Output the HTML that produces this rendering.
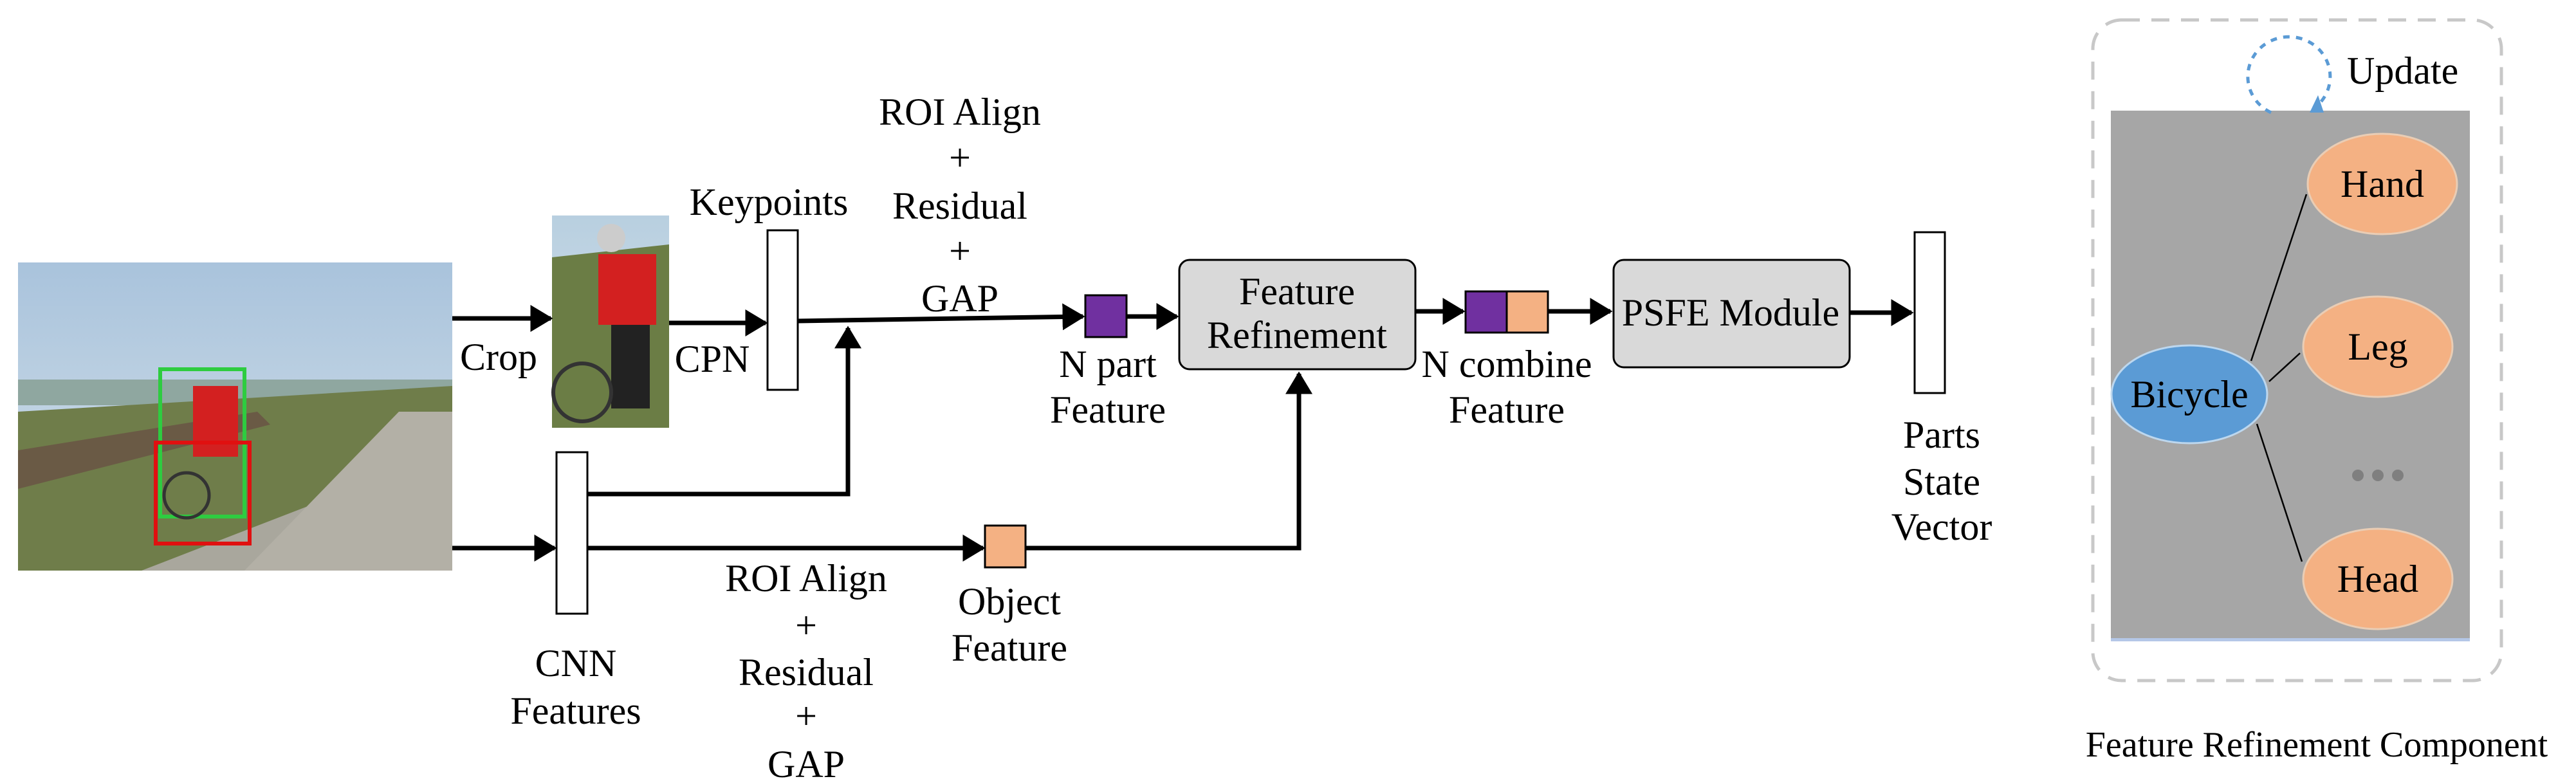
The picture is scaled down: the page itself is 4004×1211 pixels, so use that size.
<!DOCTYPE html>
<html><head><meta charset="utf-8"><style>
html,body{margin:0;padding:0;background:#fff;}
svg{display:block;}
svg text{font-family:"Liberation Serif","Times New Roman",serif !important;font-size:60px;fill:#000;}
</style></head><body>
<svg width="4004" height="1211" viewBox="0 0 4004 1211" xmlns="http://www.w3.org/2000/svg" font-family="Liberation Serif, serif">
<defs>
<marker id="ah" markerWidth="6" markerHeight="6" refX="4.5" refY="3" orient="auto" markerUnits="strokeWidth">
<path d="M0,0 L5,3 L0,6 z" fill="#000"/></marker>
<linearGradient id="sky" x1="0" y1="0" x2="0" y2="1">
<stop offset="0" stop-color="#a9c3dc"/><stop offset="1" stop-color="#d6e2ea"/></linearGradient>
<linearGradient id="sky2" x1="0" y1="0" x2="0" y2="1">
<stop offset="0" stop-color="#b8cfe0"/><stop offset="1" stop-color="#d8e4ea"/></linearGradient>
</defs>

<!-- main photo -->
<rect x="28" y="408" width="675" height="479" fill="url(#sky)"/>
<rect x="28" y="590" width="675" height="40" fill="#8fa7a0"/>
<polygon points="28,640 703,600 703,887 28,887" fill="#6f7d4a"/>
<polygon points="220,887 703,700 703,887" fill="#a9a79d"/>
<polygon points="380,887 620,640 703,640 703,887" fill="#b3b0a6"/>
<polygon points="28,700 400,640 420,660 28,760" fill="#6a5a45"/>
<rect x="249" y="574" width="131" height="229" fill="none" stroke="#2ecc40" stroke-width="6"/>
<rect x="300" y="600" width="70" height="110" fill="#d32020"/>
<rect x="242" y="688" width="146" height="157" fill="none" stroke="#e01010" stroke-width="6"/>
<circle cx="290" cy="770" r="35" fill="none" stroke="#333" stroke-width="5"/>

<!-- crop photo -->
<rect x="858" y="335" width="182" height="330" fill="url(#sky2)"/>
<polygon points="858,400 1040,380 1040,665 858,665" fill="#6b7d45"/>
<rect x="930" y="395" width="90" height="110" fill="#d32020"/>
<circle cx="950" cy="370" r="22" fill="#ccc"/>
<rect x="950" y="505" width="60" height="130" fill="#222"/>
<circle cx="905" cy="610" r="45" fill="none" stroke="#333" stroke-width="6"/>

<!-- arrows -->
<g stroke="#000" stroke-width="7" fill="none">
<line x1="703" y1="495" x2="856" y2="495" marker-end="url(#ah)"/>
<line x1="1040" y1="502" x2="1190" y2="502" marker-end="url(#ah)"/>
<line x1="1240" y1="499" x2="1683" y2="492" marker-end="url(#ah)"/>
<line x1="1751" y1="492" x2="1829" y2="492" marker-end="url(#ah)"/>
<polyline points="913,768 1318,768 1318,510" marker-end="url(#ah)"/>
<line x1="703" y1="852" x2="862" y2="852" marker-end="url(#ah)"/>
<line x1="913" y1="852" x2="1528" y2="852" marker-end="url(#ah)"/>
<polyline points="1594,852 2019,852 2019,581" marker-end="url(#ah)"/>
<line x1="2200" y1="484" x2="2274" y2="484" marker-end="url(#ah)"/>
<line x1="2406" y1="484" x2="2503" y2="484" marker-end="url(#ah)"/>
<line x1="2875" y1="486" x2="2971" y2="486" marker-end="url(#ah)"/>
</g>

<!-- boxes -->
<g stroke="#000" stroke-width="3">
<rect x="1193" y="358" width="47" height="248" fill="#fff"/>
<rect x="865" y="703" width="48" height="251" fill="#fff"/>
<rect x="2976" y="361" width="47" height="250" fill="#fff"/>
<rect x="1687" y="459" width="64" height="65" fill="#7030a0"/>
<rect x="1531" y="817" width="63" height="65" fill="#f4b183"/>
<rect x="2278" y="453" width="64" height="64" fill="#7030a0"/>
<rect x="2342" y="453" width="64" height="64" fill="#f4b183"/>
<rect x="1833" y="404" width="367" height="170" rx="16" fill="#d9d9d9"/>
<rect x="2508" y="404" width="367" height="167" rx="16" fill="#d9d9d9"/>
</g>

<!-- labels -->
<g text-anchor="middle" font-family="Liberation Serif, serif" font-size="60">
<text x="775" y="575">Crop</text>
<text x="1107" y="578">CPN</text>
<text x="1195" y="334">Keypoints</text>
<text x="1492" y="194">ROI Align</text>
<text x="1492" y="265">+</text>
<text x="1492" y="340">Residual</text>
<text x="1492" y="410">+</text>
<text x="1492" y="484">GAP</text>
<text x="1722" y="586">N part</text>
<text x="1722" y="657">Feature</text>
<text x="1253" y="919">ROI Align</text>
<text x="1253" y="992">+</text>
<text x="1253" y="1065">Residual</text>
<text x="1253" y="1133">+</text>
<text x="1253" y="1208">GAP</text>
<text x="1569" y="955">Object</text>
<text x="1569" y="1027">Feature</text>
<text x="895" y="1051">CNN</text>
<text x="895" y="1125">Features</text>
<text x="2016" y="473">Feature</text>
<text x="2016" y="541">Refinement</text>
<text x="2342" y="586">N combine</text>
<text x="2342" y="657">Feature</text>
<text x="2690" y="506">PSFE Module</text>
<text x="3018" y="696">Parts</text>
<text x="3018" y="769">State</text>
<text x="3018" y="839">Vector</text>
<text x="3601" y="1176" style="font-size:56px">Feature Refinement Component</text>
</g>

<!-- right component -->
<rect x="3253" y="31" width="635" height="1027" rx="45" fill="none" stroke="#c8c8c8" stroke-width="5" stroke-dasharray="28,18"/>
<rect x="3281" y="172" width="558" height="824" fill="#a6a6a6"/>
<rect x="3281" y="992" width="558" height="5" fill="#b4c7e7"/>
<g stroke="#000" stroke-width="2.5">
<line x1="3499" y1="561" x2="3585" y2="302"/>
<line x1="3527" y1="593" x2="3575" y2="549"/>
<line x1="3508" y1="659" x2="3578" y2="873"/>
</g>
<g fill="#f4b183" stroke="#e9cdb5" stroke-width="3">
<ellipse cx="3703" cy="286" rx="116" ry="78"/>
<ellipse cx="3696" cy="539" rx="116" ry="78"/>
<ellipse cx="3696" cy="900" rx="116" ry="78"/>
</g>
<ellipse cx="3403" cy="613" rx="121" ry="76" fill="#5b9bd5" stroke="#bdd7ee" stroke-width="3"/>
<g fill="#7f7f7f"><circle cx="3665" cy="739" r="9"/><circle cx="3696" cy="739" r="9"/><circle cx="3727" cy="739" r="9"/></g>
<g text-anchor="middle" font-family="Liberation Serif, serif" font-size="60">
<text x="3703" y="306">Hand</text>
<text x="3696" y="559">Leg</text>
<text x="3696" y="920">Head</text>
<text x="3403" y="633">Bicycle</text>
</g>
<path d="M3530,175 A64,62 0 1 1 3601,165" fill="none" stroke="#5b9bd5" stroke-width="5" stroke-dasharray="10,10"/>
<polygon points="3590,175 3612,175 3603,148" fill="#5b9bd5"/>
<text x="3648" y="130" font-family="Liberation Serif, serif">Update</text>
</svg>
</body></html>
